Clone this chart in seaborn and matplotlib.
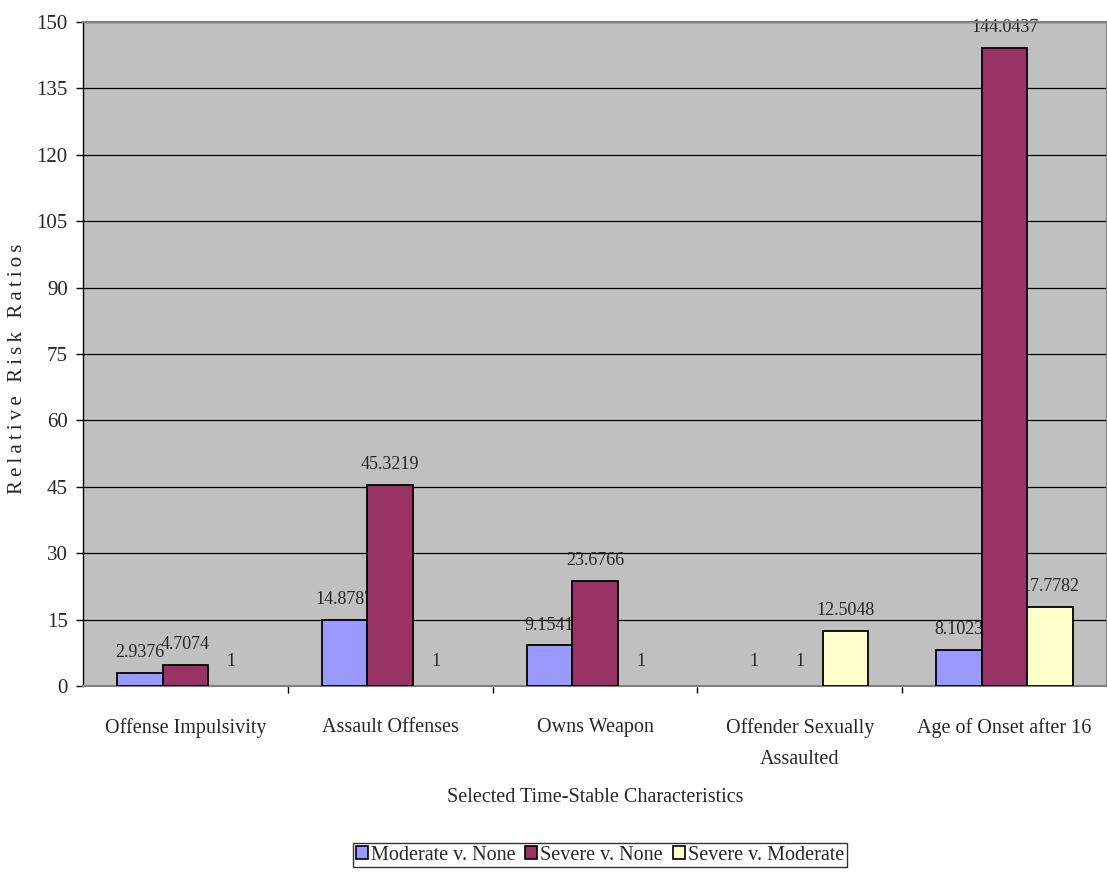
import matplotlib
matplotlib.use("Agg")
import matplotlib.pyplot as plt
import seaborn as sns
import pandas as pd
import numpy as np

# ---- data ----
categories = [
    "Offense Impulsivity",
    "Assault Offenses",
    "Owns Weapon",
    "Offender Sexually\nAssaulted",
    "Age of Onset after 16",
]
comparisons = ["Moderate v. None", "Severe v. None", "Severe v. Moderate"]
moderate_v_none = [2.9376, 14.8787, 9.1541, 1, 8.1023]
severe_v_none = [4.7074, 45.3219, 23.6766, 1, 144.0437]
severe_v_moderate = [1, 1, 1, 12.5048, 17.7782]
colors = ["#9999FF", "#993366", "#FFFFCC"]
y_ticks = list(range(0, 151, 15))

series = [moderate_v_none, severe_v_none, severe_v_moderate]
df = pd.DataFrame({
    "category": [c for _ in comparisons for c in categories],
    "comparison": [comp for comp in comparisons for _ in categories],
    "value": [v for s in series for v in s],
})

sns.set_style("white")
plt.rcParams["font.family"] = ["Liberation Serif", "DejaVu Serif"]

fig = plt.figure(figsize=(11.07, 8.77), dpi=100)
ax = fig.add_axes([83 / 1107, 1 - 686 / 877, 1 - 83 / 1107, (686 - 22) / 877])
ax.set_facecolor("#C0C0C0")

sns.barplot(
    data=df, x="category", y="value", hue="comparison",
    order=categories, hue_order=comparisons, palette=colors,
    width=2 / 3, edgecolor="black", linewidth=1.3, saturation=1,
    errorbar=None, ax=ax, zorder=3,
)

def fmt(v):
    return f"{v:.4f}".rstrip("0").rstrip(".")

# value labels sit underneath the bars; bars of value 1 carry no fill
for cont, vals in zip(ax.containers, series):
    for bar, v in zip(cont, vals):
        bar.set_zorder(3)
        if v == 1:
            bar.set_facecolor("none")
            bar.set_edgecolor("none")
        x = bar.get_x() + bar.get_width() / 2
        ax.annotate(
            fmt(v), xy=(x, bar.get_height()), xytext=(0, 11.5),
            textcoords="offset points", ha="center", va="baseline",
            fontsize=13, zorder=2, annotation_clip=False,
        )

# axes styling
ax.set_ylim(0, 150)
ax.set_xlim(-0.5, len(categories) - 0.5)
ax.set_yticks(y_ticks)
ax.yaxis.grid(True, color="black", linewidth=0.9, zorder=1)
ax.set_axisbelow(True)
ax.tick_params(axis="y", which="major", direction="out", length=5, width=1,
               color="black", pad=6, labelsize=15, left=True)
ax.set_xticks(range(len(categories)))
ax.set_xticklabels(categories, linespacing=1.85)
ax.set_xticks(np.arange(0.5, len(categories) - 0.5, 1), minor=True)
ax.tick_params(axis="x", which="major", length=0, pad=23, labelsize=14.5)
ax.tick_params(axis="x", which="minor", direction="out", length=5, width=1,
               color="black", bottom=True)

for side in ["top", "right", "bottom"]:
    ax.spines[side].set_color("#808080")
    ax.spines[side].set_linewidth(1.5)
ax.spines["left"].set_color("black")
ax.spines["left"].set_linewidth(1)

ax.set_xlabel("")
ax.set_ylabel("")
fig.text(595 / 1107, 1 - 797 / 877, "Selected Time-Stable Characteristics",
         ha="center", va="center", fontsize=14.5)
fig.text(18 / 1107, 1 - 369 / 877, "\u2009".join("Relative Risk Ratios"),
         ha="center", va="center", rotation=90, fontsize=15,
         family=["Liberation Serif", "DejaVu Serif"])

handles, labels = ax.get_legend_handles_labels()
for h in handles:
    h.set_edgecolor("black")
    h.set_linewidth(1.2)
leg = ax.legend(
    handles, labels, loc="center", bbox_to_anchor=(600 / 1107, 1 - 855 / 877),
    bbox_transform=fig.transFigure, ncol=3, fontsize=14.5, frameon=True,
    fancybox=False, handlelength=0.6, handleheight=0.6, handletextpad=0.15,
    columnspacing=0.5, borderpad=0.12, borderaxespad=0,
)
leg.get_frame().set_edgecolor("black")
leg.get_frame().set_linewidth(1)

fig.savefig("out.png", dpi=100, facecolor="white")
